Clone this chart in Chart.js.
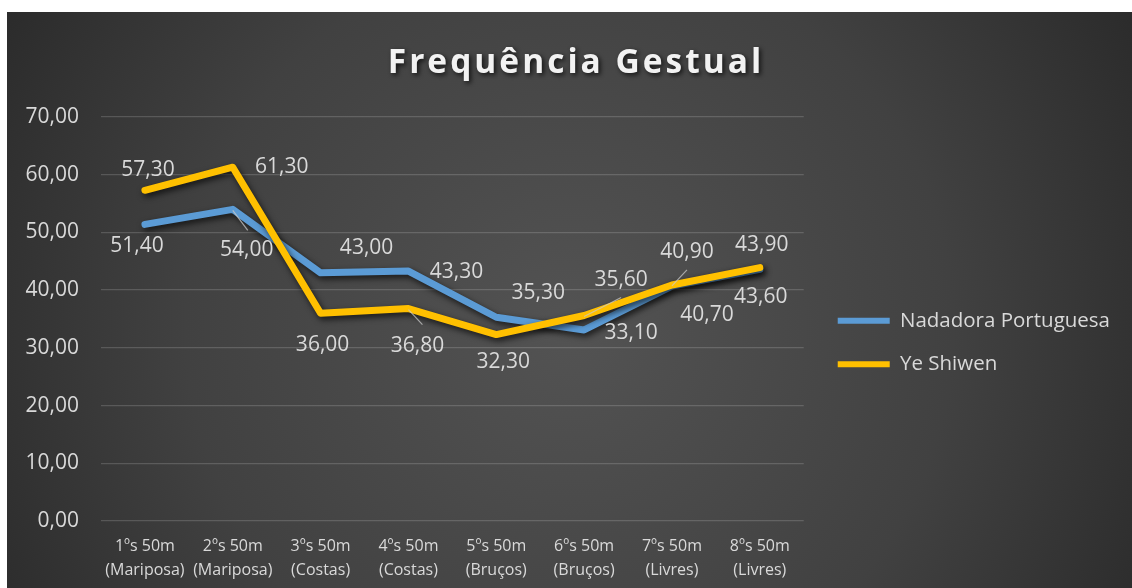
<!DOCTYPE html>
<html>
<head>
<meta charset="utf-8">
<script src="https://cdn.jsdelivr.net/npm/chart.js@4.4.1/dist/chart.umd.min.js"></script>
<style>
  html, body { margin: 0; padding: 0; background: #ffffff; }
  #wrap { position: absolute; left: 7px; top: 12px; width: 1125px; height: 576px; }
  canvas { display: block; }
</style>
</head>
<body>
<div id="wrap"><canvas id="c" width="1125" height="576"></canvas></div>
<script>
const chartTitle = "Frequência Gestual";
const categories = [
  ["1ºs 50m", "(Mariposa)"], ["2ºs 50m", "(Mariposa)"], ["3ºs 50m", "(Costas)"], ["4ºs 50m", "(Costas)"],
  ["5ºs 50m", "(Bruços)"], ["6ºs 50m", "(Bruços)"], ["7ºs 50m", "(Livres)"], ["8ºs 50m", "(Livres)"]
];
const seriesNames = ["Nadadora Portuguesa", "Ye Shiwen"];
const nadadoraPortuguesa = [51.4, 54.0, 43.0, 43.3, 35.3, 33.1, 40.7, 43.6];
const yeShiwen = [57.3, 61.3, 36.0, 36.8, 32.3, 35.6, 40.9, 43.9];
const yTicks = [0, 10, 20, 30, 40, 50, 60, 70];

// label placement styles (offsets from the point, in px) and leader-line ends
const labelOffsets = [
  [[-8, 22], [14, 41], [46, -25], [48, 1], [42, -24], [47, 3], [35, 29], [1, 28]],
  [[3, -20], [49, 0], [2, 32], [9, 37], [7, 27], [37, -36], [15, -33], [2, -23]]
];
const leaderEnds = [
  [null, [15, 21], null, null, null, null, null, null],
  [null, null, null, [14, 16], null, [37, -18], [15, -15], null]
];

const fmt = v => v.toFixed(2).replace('.', ',');

const bgPlugin = {
  id: 'bg',
  beforeDraw(chart) {
    const {ctx, width, height} = chart;
    ctx.save();
    const g = ctx.createRadialGradient(width * 0.5, height * 0.55, 0, width * 0.5, height * 0.55, width * 0.62);
    g.addColorStop(0, '#535353');
    g.addColorStop(0.55, '#414141');
    g.addColorStop(1, '#272727');
    ctx.fillStyle = g;
    ctx.fillRect(0, 0, width, height);
    // title
    ctx.font = 'bold 33.5px "Open Sans"';
    try { ctx.letterSpacing = '3px'; } catch (e) {}
    ctx.textAlign = 'center';
    ctx.textBaseline = 'middle';
    ctx.shadowColor = 'rgba(0,0,0,0.75)';
    ctx.shadowBlur = 5;
    ctx.shadowOffsetX = 2;
    ctx.shadowOffsetY = 2;
    ctx.fillStyle = '#f2f2f2';
    ctx.fillText(chartTitle, 569, 51);
    ctx.restore();
  }
};

const shadowPlugin = {
  id: 'lineShadow',
  beforeDatasetDraw(chart) {
    const ctx = chart.ctx;
    ctx.save();
    ctx.shadowColor = 'rgba(0,0,0,0.7)';
    ctx.shadowBlur = 6;
    ctx.shadowOffsetX = 2;
    ctx.shadowOffsetY = 3;
  },
  afterDatasetDraw(chart) {
    chart.ctx.restore();
  }
};

const labelPlugin = {
  id: 'dataLabels',
  afterDatasetsDraw(chart) {
    const ctx = chart.ctx;
    ctx.save();
    chart.data.datasets.forEach((ds, di) => {
      const meta = chart.getDatasetMeta(di);
      meta.data.forEach((pt, i) => {
        const le = leaderEnds[di][i];
        if (le) {
          ctx.strokeStyle = 'rgba(200,200,200,0.75)';
          ctx.lineWidth = 1.2;
          ctx.beginPath();
          ctx.moveTo(pt.x, pt.y + 1);
          ctx.lineTo(pt.x + le[0], pt.y + le[1]);
          ctx.stroke();
        }
        const off = labelOffsets[di][i];
        ctx.font = '21px "Open Sans"';
        ctx.fillStyle = '#d9d9d9';
        ctx.textAlign = 'center';
        ctx.textBaseline = 'middle';
        ctx.fillText(fmt(ds.data[i]), pt.x + off[0], pt.y + off[1]);
      });
    });
    ctx.restore();
  }
};

const legendShift = {
  id: 'legendShift',
  afterLayout(chart) {
    const lg = chart.legend;
    if (lg) { lg.left += 11; lg.right += 11; lg.top -= 10; lg.bottom -= 10; }
  }
};

new Chart(document.getElementById('c'), {
  type: 'line',
  data: {
    labels: categories,
    datasets: [
      { label: seriesNames[0], data: nadadoraPortuguesa, borderColor: '#5B9BD5', backgroundColor: '#5B9BD5',
        borderWidth: 7, pointRadius: 0, tension: 0, borderJoinStyle: 'round', borderCapStyle: 'round', order: 1 },
      { label: seriesNames[1], data: yeShiwen, borderColor: '#FFC000', backgroundColor: '#FFC000',
        borderWidth: 7, pointRadius: 0, tension: 0, borderJoinStyle: 'round', borderCapStyle: 'round', order: 0 }
    ]
  },
  options: {
    responsive: false,
    animation: false,
    devicePixelRatio: 1,
    layout: { padding: { top: 105, bottom: 0, left: 0, right: 23 } },
    plugins: {
      title: { display: false },
      tooltip: { enabled: false },
      legend: {
        position: 'right',
        maxWidth: 400,
        labels: {
          color: '#d9d9d9',
          font: { family: 'Open Sans', size: 20.5 },
          boxWidth: 52,
          boxHeight: 6,
          useBorderRadius: true,
          borderRadius: 3,
          padding: 23,
          sort: (a, b) => a.datasetIndex - b.datasetIndex,
          generateLabels(chart) {
            return chart.data.datasets.map((d, i) => ({
              text: d.label, fillStyle: d.borderColor, strokeStyle: d.borderColor, lineWidth: 0,
              fontColor: '#d9d9d9', datasetIndex: i, hidden: false
            }));
          }
        }
      }
    },
    scales: {
      x: {
        offset: true,
        grid: { display: false, drawTicks: false },
        border: { display: false },
        ticks: { color: '#d9d9d9', font: { family: 'Open Sans', size: 16, lineHeight: 1.5 }, padding: 13, maxRotation: 0, autoSkip: false },
        afterFit(s) { s.height = 67; }
      },
      y: {
        min: 0, max: 70,
        afterBuildTicks(s) { s.ticks = yTicks.map(v => ({ value: v })); },
        grid: { color: 'rgba(255,255,255,0.16)', lineWidth: 1.3, drawTicks: false },
        border: { display: false },
        ticks: { color: '#d9d9d9', font: { family: 'Open Sans', size: 21 }, padding: 22, callback: v => fmt(v) },
        afterFit(s) { s.width = 94; }
      }
    }
  },
  plugins: [bgPlugin, shadowPlugin, labelPlugin, legendShift]
});
</script>
</body>
</html>
